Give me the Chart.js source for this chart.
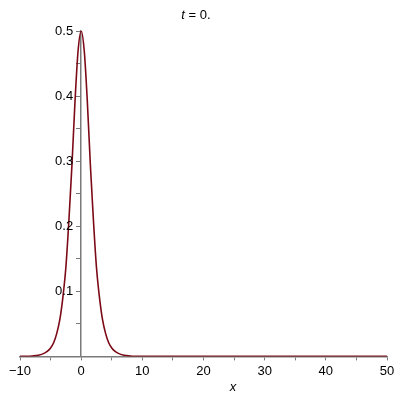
<!DOCTYPE html>
<html>
<head>
<meta charset="utf-8">
<script src="https://cdn.jsdelivr.net/npm/chart.js@4/dist/chart.umd.min.js"></script>
<style>
  html, body { margin: 0; padding: 0; background: #fff; }
  #wrap { width: 400px; height: 400px; }
</style>
</head>
<body>
<div id="wrap"><canvas id="plot" width="400" height="400"></canvas></div>
<script>
// valores (pico en x=0, cola en cero hasta x=50)
const xValues = [-10, -9, -8, -7, -6, -5.5, -5, -4.5, -4, -3.5, -3, -2.5, -2, -1.5, -1, -0.5,
  0, 0.5, 1, 1.5, 2, 2.5, 3, 3.5, 4, 4.5, 5, 5.5, 6, 7, 8, 9, 10, 15, 20, 30, 40, 50];
const yValues = [0.0001, 0.0002, 0.0007, 0.0018, 0.005, 0.008, 0.013, 0.021, 0.035, 0.056, 0.090, 0.137, 0.210, 0.295, 0.393, 0.470,
  0.500, 0.470, 0.393, 0.295, 0.210, 0.137, 0.090, 0.056, 0.035, 0.021, 0.013, 0.008, 0.005, 0.0018, 0.0007, 0.0002, 0.0001, 0, 0, 0, 0, 0];
const xTickLabels = ['\u221210', '0', '10', '20', '30', '40', '50'];
const yTickValues = [0.1, 0.2, 0.3, 0.4, 0.5];
const yTickLabels = ['0.1', '0.2', '0.3', '0.4', '0.5'];
const titleText = 't = 0.';
const xAxisName = 'x';

const axisColor = '#7a7a7a';
const curveColor = '#7c0a16';
const font = '"Liberation Sans", Arial, sans-serif';

const points = xValues.map(function (x, i) { return { x: x, y: yValues[i] }; });

const labelsPlugin = {
  id: 'labels',
  afterDraw: function (chart) {
    const ctx = chart.ctx;
    const xs = chart.scales.x;
    const ys = chart.scales.y;
    ctx.save();
    ctx.fillStyle = '#000';
    ctx.textBaseline = 'middle';
    // etiquetas del eje y, a la izquierda del eje en x=0
    ctx.font = '13px ' + font;
    ctx.textAlign = 'right';
    const ax = xs.getPixelForValue(0);
    yTickValues.forEach(function (v, i) {
      ctx.fillText(yTickLabels[i], ax - 8, ys.getPixelForValue(v));
    });
    // titulo: "t" en cursiva, el resto normal
    ctx.font = 'italic 13px ' + font;
    const tW = ctx.measureText('t').width;
    ctx.font = '13px ' + font;
    const restW = ctx.measureText(titleText.slice(1)).width;
    let x0 = 196 - (tW + restW) / 2;
    ctx.textAlign = 'left';
    ctx.font = 'italic 13px ' + font;
    ctx.fillText('t', x0, 15);
    ctx.font = '13px ' + font;
    ctx.fillText(titleText.slice(1), x0 + tW, 15);
    // nombre del eje x
    ctx.font = 'italic 13px ' + font;
    ctx.textAlign = 'center';
    ctx.fillText(xAxisName, 233, 387);
    ctx.restore();
  }
};

new Chart(document.getElementById('plot').getContext('2d'), {
  type: 'scatter',
  data: {
    datasets: [{
      data: points,
      showLine: true,
      borderColor: curveColor,
      borderWidth: 1.6,
      pointRadius: 0,
      cubicInterpolationMode: 'monotone',
      fill: false
    }]
  },
  options: {
    responsive: false,
    animation: false,
    layout: { padding: { left: 20, right: 13, top: 31, bottom: 18 } },
    plugins: { legend: { display: false }, tooltip: { enabled: false } },
    scales: {
      x: {
        type: 'linear',
        min: -10,
        max: 50,
        position: 'bottom',
        border: { display: true, color: axisColor, width: 1.5 },
        grid: { display: true, drawOnChartArea: false, drawTicks: true, tickLength: 4, color: axisColor },
        ticks: {
          stepSize: 5,
          color: '#000',
          font: { family: font, size: 13 },
          padding: 3,
          maxRotation: 0,
          autoSkip: false,
          callback: function (v) {
            if (v % 10 !== 0) return '';
            return xTickLabels[(v + 10) / 10];
          }
        }
      },
      y: {
        type: 'linear',
        min: 0,
        max: 0.5,
        position: { x: 0 },
        border: { display: true, color: axisColor, width: 1.5 },
        grid: { display: true, drawOnChartArea: false, drawTicks: true, tickLength: 4, color: axisColor },
        ticks: {
          stepSize: 0.05,
          autoSkip: false,
          color: 'rgba(0,0,0,0)',
          callback: function () { return ''; }
        }
      }
    }
  },
  plugins: [labelsPlugin]
});
</script>
</body>
</html>
